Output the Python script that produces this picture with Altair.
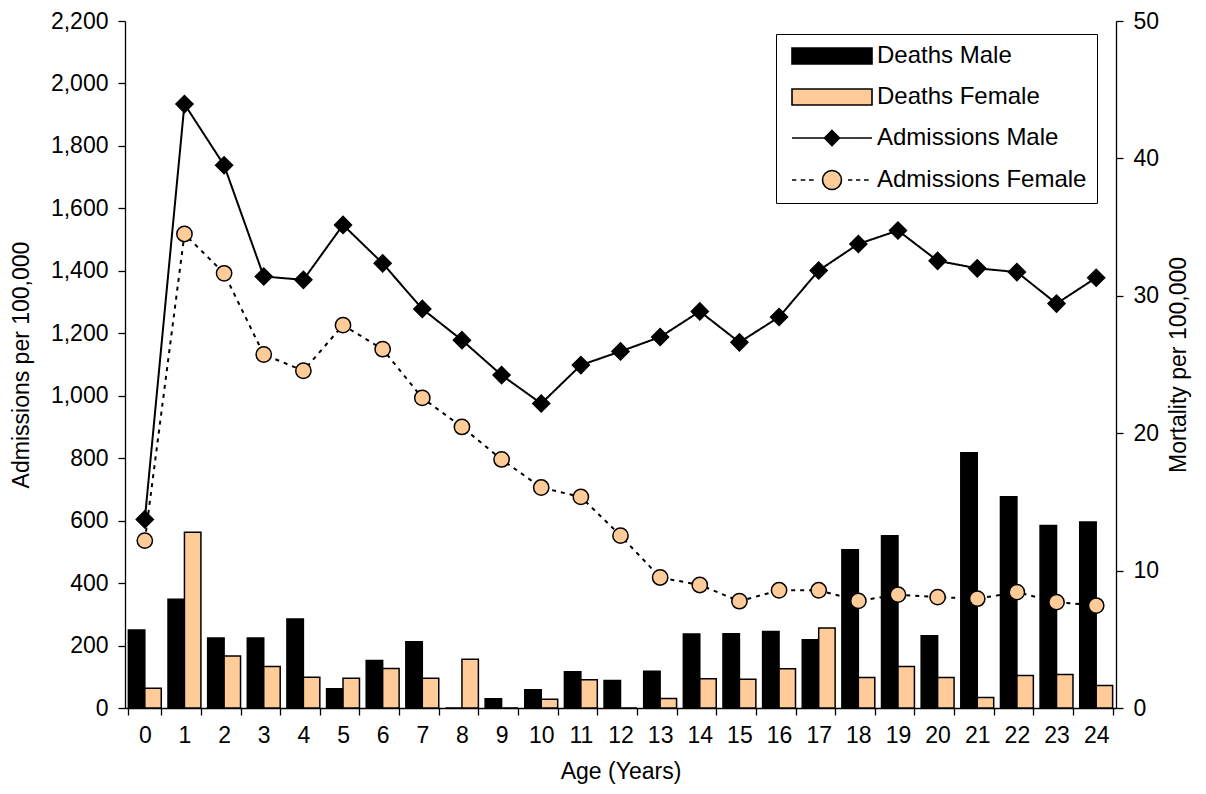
import altair as alt
import pandas as pd

ages = list(range(25))

deaths_male = [5.68, 7.91, 5.10, 5.10, 6.48, 1.40, 3.45, 4.83, 0.0, 0.67, 1.32, 2.63, 2.00,
               2.67, 5.39, 5.41, 5.56, 4.96, 11.52, 12.54, 5.25, 18.57, 15.37, 13.29, 13.53]
deaths_female = [1.44, 12.80, 3.79, 3.02, 2.24, 2.17, 2.87, 2.17, 3.55, 0.0, 0.64, 2.05, 0.0,
                 0.69, 2.12, 2.10, 2.85, 5.83, 2.22, 3.02, 2.22, 0.76, 2.36, 2.43, 1.64]
adm_male = [604, 1934, 1738, 1382, 1371, 1547, 1424, 1278, 1178, 1066, 975, 1098, 1142,
            1188, 1270, 1171, 1252, 1401, 1486, 1529, 1432, 1408, 1396, 1295, 1378]
adm_female = [536, 1518, 1392, 1132, 1080, 1226, 1149, 993, 900, 796, 706, 676, 552,
              418, 394, 342, 377, 377, 343, 363, 355, 350, 371, 339, 328]

series_names = ["Deaths Male", "Deaths Female", "Admissions Male", "Admissions Female"]
series_colors = ["#000000", "#FFCC99", "#000000", "#FFCC99"]

bars_df = pd.DataFrame(
    [{"age": a, "sex": "Male", "series": "Deaths Male", "mortality": v} for a, v in zip(ages, deaths_male)]
    + [{"age": a, "sex": "Female", "series": "Deaths Female", "mortality": v} for a, v in zip(ages, deaths_female)]
)
lines_df = pd.DataFrame(
    [{"age": a, "series": "Admissions Male", "admissions": v} for a, v in zip(ages, adm_male)]
    + [{"age": a, "series": "Admissions Female", "admissions": v} for a, v in zip(ages, adm_female)]
)

FONT = "Liberation Sans"

# custom legend symbol paths (units of 10px with symbolSize 400)
rect_path = "M-0.6,-0.8H7.4V0.8H-0.6Z"
male_line_path = "M-0.6,0H7.4M3.4,-0.75L4.15,0L3.4,0.75L2.65,0Z"
female_line_path = ("M-0.6,0H-0.17M0.27,0H0.73M1.1,0H1.57M5.0,0H5.43M5.8,0H6.23M6.6,0H7.07"
                    "M2.45,0A0.95,0.95 0 1,0 4.35,0A0.95,0.95 0 1,0 2.45,0Z")
shape_expr = ("(datum.value == 'Deaths Male' || datum.value == 'Deaths Female') ? '%s' : "
              "(datum.value == 'Admissions Male' ? '%s' : '%s')") % (rect_path, male_line_path, female_line_path)

legend = alt.Legend(
    title=None,
    orient="none",
    legendX=651,
    legendY=13,
    strokeColor="black",
    fillColor="white",
    padding=10,
    symbolSize=400,
    symbolType=alt.ExprRef(expr=shape_expr),
    symbolStrokeColor="black",
    symbolStrokeWidth=1.6,
    symbolOpacity=1,
    labelFont=FONT,
    labelFontSize=24,
    labelColor="black",
    labelOffset=67,
    labelLimit=500,
    rowPadding=17,
)

fill_scale = alt.Scale(domain=series_names, range=series_colors)

x_enc = alt.X(
    "age:O",
    sort=ages,
    scale=alt.Scale(paddingInner=0.17, paddingOuter=0.085),
    axis=alt.Axis(title="Age (Years)", labelAngle=0, tickBand="extent", tickSize=7,
                  labelPadding=9, titlePadding=13),
)

left_axis = alt.Axis(orient="left", values=list(range(0, 2201, 200)), format=",d",
                     title="Admissions per 100,000", tickSize=7, labelPadding=10,
                     titlePadding=17, grid=False)
left_scale = alt.Scale(domain=[0, 2200], nice=False)

bars = alt.Chart(bars_df).mark_bar(stroke="black", strokeWidth=1.5).encode(
    x=x_enc,
    xOffset=alt.XOffset("sex:N", sort=["Male", "Female"], scale=alt.Scale(domain=["Male", "Female"])),
    y=alt.Y(
        "mortality:Q",
        scale=alt.Scale(domain=[0, 50], nice=False),
        axis=alt.Axis(orient="right", values=[0, 10, 20, 30, 40, 50], title="Mortality per 100,000",
                      tickSize=7, labelPadding=10, titlePadding=32, titleAngle=270, grid=False),
    ),
    fill=alt.Fill("series:N", scale=fill_scale, legend=legend),
)

lines = alt.Chart(lines_df).mark_line(color="black", strokeWidth=2).encode(
    x=x_enc,
    y=alt.Y("admissions:Q", scale=left_scale, axis=left_axis),
    strokeDash=alt.StrokeDash(
        "series:N",
        scale=alt.Scale(domain=["Admissions Male", "Admissions Female"], range=[[1, 0], [4, 5]]),
        legend=None,
    ),
)

points = alt.Chart(lines_df).mark_point(filled=True, stroke="black", strokeWidth=1.5, opacity=1).encode(
    x=x_enc,
    y=alt.Y("admissions:Q", scale=left_scale, axis=left_axis),
    shape=alt.Shape("series:N", scale=alt.Scale(domain=["Admissions Male", "Admissions Female"],
                                                range=["diamond", "circle"]), legend=None),
    size=alt.Size("series:N", scale=alt.Scale(domain=["Admissions Male", "Admissions Female"],
                                              range=[289, 235]), legend=None),
    fill=alt.Fill("series:N", scale=fill_scale, legend=legend),
)

line_layer = alt.layer(lines, points)

chart = (
    alt.layer(bars, line_layer)
    .resolve_scale(y="independent")
    .properties(
        width=991,
        height=687,
        autosize=alt.AutoSizeParams(type="none"),
        padding={"left": 117, "top": 13, "right": 80, "bottom": 77},
    )
    .configure(font=FONT)
    .configure_view(stroke=None)
    .configure_axis(
        labelFont=FONT, titleFont=FONT, labelFontSize=23, titleFontSize=23,
        titleFontWeight="normal", labelColor="black", titleColor="black",
        domainColor="black", tickColor="black", domainWidth=1.3, tickWidth=1.3,
    )
)

chart.save("out.html", embed_options={"renderer": "svg", "actions": False})
